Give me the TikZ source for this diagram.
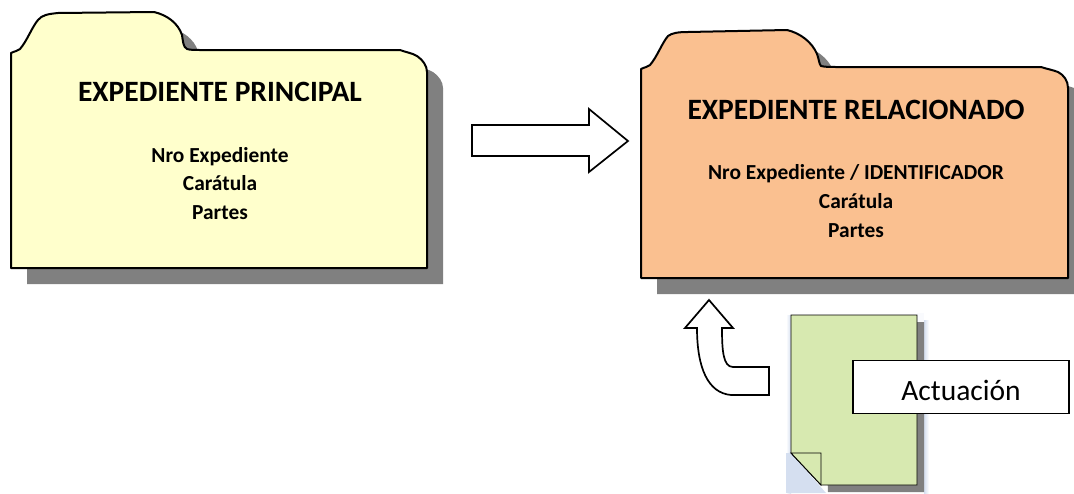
\documentclass[tikz,border=0pt]{standalone}
\usepackage{fontspec}
\setmainfont{Carlito}
\usetikzlibrary{shadings}
\definecolor{foldery}{HTML}{FFFFCC}
\definecolor{foldero}{HTML}{FAC090}
\definecolor{docg}{HTML}{D7E9B0}
\definecolor{shad}{HTML}{808080}
\definecolor{glow}{HTML}{D5DFF0}
\tikzset{
  folderline/.style={draw=black,line width=2pt,line join=round},
  arrowshape/.style={draw=black,fill=white,line width=1.7pt,line join=miter},
  title/.style={font=\bfseries\fontsize{29.5}{32}\selectfont,inner sep=0pt,anchor=base},
  sub/.style={font=\bfseries\fontsize{21.4}{24}\selectfont,inner sep=0pt,anchor=base},
  labelbox/.style={draw=black,fill=white,line width=1.7pt,minimum width=216pt,minimum height=53pt,inner sep=0pt},
  labeltext/.style={font=\fontsize{29.5}{32}\selectfont,inner sep=0pt,anchor=base}
}
\def\folderA{(11,53) .. controls (15,51) and (18,51) .. (20,49) .. controls (27,41) and (32,27) .. (38,20) .. controls (42,15) and (48,14) .. (58,13) -- (154,12) .. controls (167,15) and (178,23) .. (182,35) .. controls (183,41) and (183,47) .. (187,49) .. controls (190,50) and (195,50) .. (200,50) -- (400,50) .. controls (405,52) and (412,53) .. (417,56) .. controls (423,60) and (427,66) .. (427,72) -- (427,268) -- (11,268) -- cycle}
\def\folderB{(641,69) .. controls (645,67) and (648,67) .. (650,65) .. controls (657,57) and (662,43) .. (668,36) .. controls (672,33) and (678,32) .. (688,32) -- (787,30) .. controls (800,33) and (812,42) .. (817,54) .. controls (819,59) and (819,64) .. (821,66) .. controls (825,67) and (830,67) .. (836,67) -- (1041,67) .. controls (1047,69) and (1053,70) .. (1058,72) .. controls (1064,75) and (1068,81) .. (1068,88) -- (1068,278) -- (641,278) -- cycle}
\begin{document}
\begin{tikzpicture}[x=1pt,y=-1pt]
\useasboundingbox (0,0) rectangle (1074,493);
\begin{scope}
\clip (0,0) rectangle (1074,493);
% folder shadows
\fill[shad,shift={(16,16)}] \folderA;
\fill[shad,shift={(16,16)}] \folderB;
% folders
\path[folderline,fill=foldery] \folderA;
\path[folderline,fill=foldero] \folderB;
% document glow
\shade[left color=white,right color=glow] (786,315) rectangle (791,493);
\fill[glow] (786,453) rectangle (791,493);
\fill[glow] (791,453) -- (826,493) -- (791,493) -- cycle;
\shade[left color=glow,right color=white] (924,320) rectangle (929,493);
\fill[white!85!glow] (917,313) rectangle (924,322);
% document shadow
\fill[shad] (821,322) -- (924,322) -- (924,492) -- (828,492) -- cycle;
% document
\path[draw=black,line width=0.9pt,fill=docg,line join=miter] (791,315) -- (917,315) -- (917,485) -- (821,485) -- (791,453) -- cycle;
\path[draw=black,line width=0.9pt,fill=docg] (791,453) -- (821,453) -- (821,485) -- cycle;
\end{scope}
% arrows
\path[arrowshape] (472,125) -- (589,125) -- (589,109) -- (628,141) -- (589,172) -- (589,156) -- (472,156) -- cycle;
\path[arrowshape] (709,300) -- (733,328) -- (722,328) .. controls (722,350) and (723,367) .. (733,367) -- (769,367) -- (769,395) -- (731,395) .. controls (708,393) and (697,368) .. (697,328) -- (685,328) -- cycle;
% labels
\node[title] (t1) at (220,101.5) {EXPEDIENTE PRINCIPAL};
\node[sub] (a1) at (220,162) {Nro Expediente};
\node[sub] (a2) at (220,190) {Carátula};
\node[sub] (a3) at (220,219) {Partes};
\node[title] (t2) at (856,119.5) {EXPEDIENTE RELACIONADO};
\node[sub] (b1) at (856,179) {Nro Expediente / IDENTIFICADOR};
\node[sub] (b2) at (856,208) {Carátula};
\node[sub] (b3) at (856,237) {Partes};
\node[labelbox] (act) at (961,387) {};
\node[labeltext] (acttext) at (961,400) {Actuación};
\end{tikzpicture}
\end{document}
